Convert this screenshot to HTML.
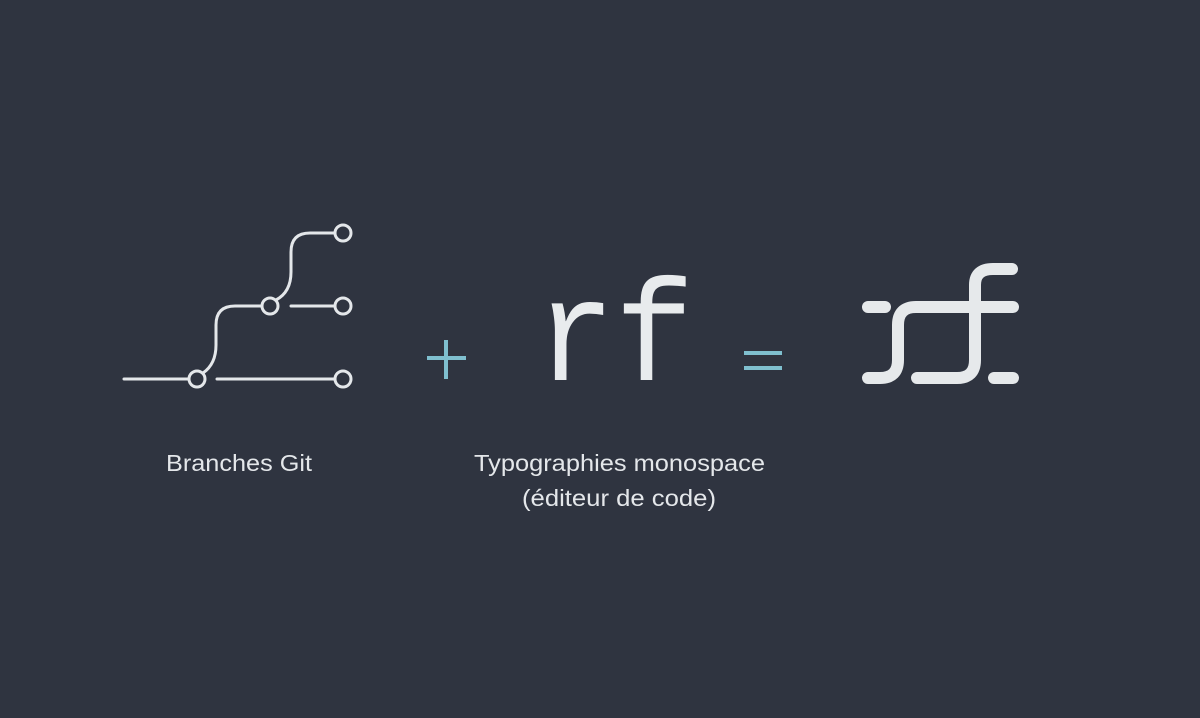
<!DOCTYPE html>
<html><head><meta charset="utf-8"><style>
html,body{margin:0;padding:0;background:#2f3440;}
body{width:1200px;height:718px;overflow:hidden;}
svg{display:block;}
</style></head><body>
<svg width="1200" height="718" viewBox="0 0 1200 718" xmlns="http://www.w3.org/2000/svg">
<rect width="1200" height="718" fill="#2f3440"/>
<g fill="none" stroke="#e4e7ea" stroke-width="3" stroke-linecap="round">
  <path d="M124,379 H189"/>
  <circle cx="197" cy="379" r="8"/>
  <path d="M217,379 H335"/>
  <circle cx="343" cy="379" r="8"/>
  <path d="M203,373 Q216,364 216,345 V325 Q216,306 235,306 H262"/>
  <circle cx="270" cy="306" r="8"/>
  <path d="M291,306 H335"/>
  <circle cx="343" cy="306" r="8"/>
  <path d="M276,300 Q291,292 291,272 V252 Q291,233 310,233 H335"/>
  <circle cx="343" cy="233" r="8"/>
</g>
<g fill="#7fbfcf">
  <rect x="427" y="356" width="39" height="4"/>
  <rect x="444" y="340" width="4" height="39"/>
  <rect x="744" y="351" width="38" height="4"/>
  <rect x="744" y="366" width="38" height="4"/>
</g>
<text x="536" y="380" font-family="'Liberation Mono', monospace" font-size="145" fill="#e8ebed" textLength="158" lengthAdjust="spacingAndGlyphs">rf</text>
<g fill="none" stroke="#e6e9eb" stroke-width="12" stroke-linecap="round">
  <path d="M868,307 H885"/>
  <path d="M868,378 H880 Q898,378 898,360 V325 Q898,307 916,307 H1013"/>
  <path d="M917,378 H957 Q975,378 975,360 V285 Q975,269 993,269 H1012"/>
  <path d="M994,378 H1013"/>
</g>
<g font-family="'Liberation Sans', sans-serif" font-size="23" fill="#e4e7ea">
  <text x="166" y="471" textLength="146" lengthAdjust="spacingAndGlyphs">Branches Git</text>
  <text x="474" y="471" textLength="291" lengthAdjust="spacingAndGlyphs">Typographies monospace</text>
  <text x="522" y="506" textLength="194" lengthAdjust="spacingAndGlyphs">(éditeur de code)</text>
</g>
</svg>
</body></html>
